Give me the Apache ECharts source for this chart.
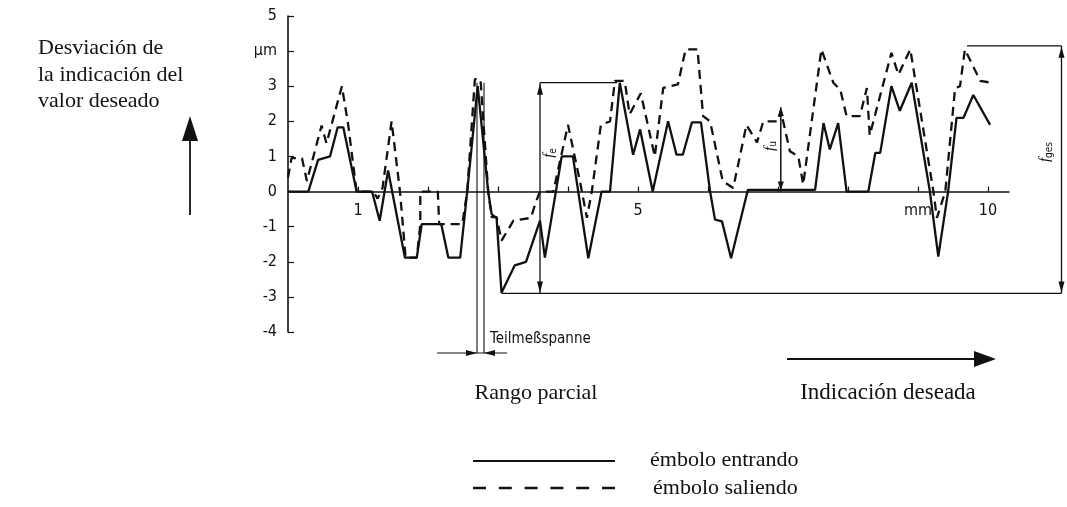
<!DOCTYPE html>
<html>
<head>
<meta charset="utf-8">
<script src="https://cdn.jsdelivr.net/npm/echarts@6/dist/echarts.min.js"></script>
<style>
  html, body { margin: 0; padding: 0; background: #ffffff; }
  #chart { width: 1067px; height: 507px; }
</style>
</head>
<body>
<div id="chart"></div>
<script>
// Deviation curves: [displacement in mm, deviation in µm]
const entrando = [
  [0, 0], [0.29, 0], [0.43, 0.9], [0.6, 1.0], [0.71, 1.83], [0.79, 1.83], [0.98, 0],
  [1.2, 0], [1.31, -0.83], [1.43, 0.6], [1.67, -1.88], [1.84, -1.88], [1.91, -0.93],
  [2.19, -0.93], [2.29, -1.88], [2.46, -1.88], [2.56, 0], [2.71, 3.0], [2.86, 0],
  [2.91, -0.65], [2.98, -0.75], [3.05, -2.88], [3.24, -2.1], [3.4, -2.0], [3.6, -0.83],
  [3.67, -1.88], [3.91, 1.0], [4.07, 1.0], [4.29, -1.9], [4.48, 0], [4.6, 0], [4.74, 3.1],
  [4.93, 1.05], [5.03, 1.77], [5.21, 0], [5.43, 2.0], [5.55, 1.05], [5.64, 1.05],
  [5.77, 1.97], [5.9, 1.97], [6.03, 0], [6.1, -0.8], [6.2, -0.85], [6.33, -1.9],
  [6.57, 0.05], [7.53, 0.05], [7.65, 1.95], [7.74, 1.2], [7.86, 1.95], [7.98, 0],
  [8.29, 0], [8.39, 1.1], [8.46, 1.1], [8.62, 3.0], [8.74, 2.3], [8.91, 3.1], [9.17, 0],
  [9.29, -1.85], [9.43, 0], [9.55, 2.1], [9.65, 2.1], [9.79, 2.75], [10.03, 1.9]
];
const saliendo = [
  [0, 0.4], [0.05, 0.95], [0.2, 0.95], [0.27, 0.3], [0.48, 1.88], [0.55, 1.37],
  [0.77, 3.0], [0.86, 1.9], [0.98, 0], [1.22, 0], [1.28, -0.2], [1.35, 0.1], [1.48, 2.0],
  [1.6, 0], [1.68, -1.88], [1.84, -1.88], [1.89, -0.93], [1.89, 0], [2.14, 0],
  [2.16, -0.93], [2.49, -0.93], [2.56, 0], [2.67, 3.2], [2.75, 3.2], [2.86, 0],
  [2.91, -0.73], [2.98, -0.73], [3.05, -1.4], [3.22, -0.83], [3.47, -0.75], [3.54, -0.3],
  [3.6, 0], [3.79, 0], [4.0, 1.9], [4.17, 0.3], [4.27, -0.75], [4.34, 0], [4.47, 1.9],
  [4.6, 2.0], [4.67, 3.15], [4.81, 3.15], [4.88, 2.2], [5.04, 2.8], [5.24, 1.0],
  [5.36, 2.95], [5.57, 3.05], [5.68, 4.05], [5.85, 4.05], [5.93, 2.15], [6.03, 2.0],
  [6.21, 0.3], [6.36, 0.1], [6.55, 1.9], [6.7, 1.4], [6.79, 2.0], [7.0, 2.0], [7.04, 2.3],
  [7.17, 1.15], [7.29, 1.0], [7.36, 0.2], [7.62, 4.05], [7.79, 3.1], [7.89, 2.9],
  [7.98, 2.15], [8.17, 2.15], [8.27, 2.95], [8.31, 1.6], [8.62, 3.95], [8.72, 3.33],
  [8.89, 4.05], [9.22, 0], [9.27, -0.75], [9.39, 0], [9.53, 2.95], [9.6, 3.0],
  [9.67, 4.05], [9.89, 3.15], [10.05, 3.1]
];

// Axis ticks and labels
const xTickValues = [1, 2, 3, 4, 5, 6, 7, 8, 9, 10];
const xLabelValues = [1, 5, 9, 10];
const xLabelText = { 1: '1', 5: '5', 9: 'mm', 10: '10' };
const yLabelText = { '5': '5', '4': 'µm', '3': '3', '2': '2', '1': '1', '0': '0',
                     '-1': '-1', '-2': '-2', '-3': '-3', '-4': '-4' };

const INK = '#111111';
const SERIF = '"Liberation Serif", "Times New Roman", serif';
const SANS = '"DejaVu Sans Condensed", "Liberation Sans Narrow", "Liberation Sans", sans-serif';

const chart = echarts.init(document.getElementById('chart'), null, { renderer: 'canvas' });

chart.setOption({
  animation: false,
  backgroundColor: '#ffffff',
  grid: { left: 288, top: 16, width: 721, height: 316, containLabel: false },
  xAxis: {
    type: 'value', min: 0, max: 10.3, interval: 1,
    axisLine: { onZero: true, lineStyle: { color: INK, width: 1.6 } },
    axisTick: { inside: true, length: 5, customValues: xTickValues, lineStyle: { color: INK, width: 1.2 } },
    axisLabel: { show: false },
    splitLine: { show: false }
  },
  yAxis: {
    type: 'value', min: -4, max: 5, interval: 1,
    axisLine: { show: true, onZero: false, lineStyle: { color: INK, width: 1.6 } },
    axisTick: { show: true, inside: true, length: 6, lineStyle: { color: INK, width: 1.2 } },
    axisLabel: {
      margin: 11, color: INK, fontFamily: SANS, fontSize: 16,
      formatter: v => yLabelText[String(v)] || ''
    },
    splitLine: { show: false }
  },
  series: [
    {
      name: 'émbolo saliendo', type: 'line', data: saliendo, symbol: 'none',
      lineStyle: { color: INK, width: 2.3, type: [9, 6] }, z: 2
    },
    {
      name: 'émbolo entrando', type: 'line', data: entrando, symbol: 'none',
      lineStyle: { color: INK, width: 2.3 }, z: 3
    }
  ]
});

// Dimension lines for the partial and total deviation spans
const feX = 3.6, feTop = 3.1, feTopEnd = 4.7;
const baseY = -2.9, baseStart = 3.05;
const fgesX = 11.05, fgesTop = 4.15, fgesTopStart = 9.7;
const fuX = 7.04, fuTop = 2.4;
const spanX = [2.7, 2.8], spanTop = 3.1, spanY = -4.6, spanOuter = [2.13, 3.13];

const P = (x, y) => chart.convertToPixel({ gridIndex: 0 }, [x, y]);

function seg(a, b, w) {
  return { type: 'line', shape: { x1: a[0], y1: a[1], x2: b[0], y2: b[1] },
           style: { stroke: INK, lineWidth: w || 1.2 }, silent: true };
}
function head(tip, dir, len, half) {
  // dir: 'up' | 'down' | 'left' | 'right'
  const [x, y] = tip;
  let pts;
  if (dir === 'up') pts = [[x, y], [x - half, y + len], [x + half, y + len]];
  else if (dir === 'down') pts = [[x, y], [x - half, y - len], [x + half, y - len]];
  else if (dir === 'right') pts = [[x, y], [x - len, y - half], [x - len, y + half]];
  else pts = [[x, y], [x + len, y - half], [x + len, y + half]];
  return { type: 'polygon', shape: { points: pts }, style: { fill: INK }, silent: true };
}
function fLabel(x, y, sub) {
  return {
    type: 'text', x: x, y: y, rotation: Math.PI / 2, silent: true,
    style: {
      text: '{f|f}{s|' + sub + '}', align: 'center', verticalAlign: 'middle',
      rich: {
        f: { fontFamily: SERIF, fontStyle: 'italic', fontSize: 15, fill: INK },
        s: { fontFamily: SANS, fontSize: 10, fill: INK, padding: [8, 0, 0, 0] }
      }
    }
  };
}

const els = [];
// x-axis tick labels sit just under the zero line
xLabelValues.forEach(v => {
  const p = P(v, 0);
  els.push({
    type: 'text', x: p[0], y: p[1] + 19, silent: true,
    style: { text: xLabelText[v], fontFamily: SANS, fontSize: 16, fill: INK,
             align: 'center', verticalAlign: 'middle' }
  });
});
// f_e: partial range
const feT = P(feX, feTop), feB = P(feX, baseY);
els.push(seg(feT, P(feTopEnd, feTop)));
els.push(seg(feT, feB, 1.3));
els.push(head([feT[0], feT[1] + 1], 'up', 11, 3));
els.push(head([feB[0], feB[1] - 1], 'down', 11, 3));
els.push(fLabel(feT[0] + 9, 153, 'e'));
// baseline at the lowest deviation
els.push(seg(P(baseStart, baseY), P(fgesX, baseY), 1.3));
// f_ges: total span
const fgT = P(fgesX, fgesTop), fgB = P(fgesX, baseY);
els.push(seg(P(fgesTopStart, fgesTop), fgT));
els.push(seg(fgT, fgB, 1.3));
els.push(head([fgT[0], fgT[1] + 1], 'up', 11, 3));
els.push(head([fgB[0], fgB[1] - 1], 'down', 11, 3));
els.push(fLabel(fgT[0] - 16, 152, 'ges'));
// f_u: reversal span
const fuT = P(fuX, fuTop), fuB = P(fuX, 0);
els.push(seg(fuT, fuB, 1.5));
els.push(head([fuT[0], fuT[1]], 'up', 9, 3));
els.push(head([fuB[0], fuB[1] - 1], 'down', 9, 3));
els.push(fLabel(fuT[0] - 11, 146, 'u'));
// Teilmeßspanne: two extension lines and inward arrows
const s1 = P(spanX[0], spanTop), s1b = P(spanX[0], spanY);
const s2 = P(spanX[1], spanTop), s2b = P(spanX[1], spanY);
els.push(seg(s1, s1b, 1.1));
els.push(seg(s2, s2b, 1.1));
els.push(seg(P(spanOuter[0], spanY), P(spanOuter[1], spanY), 1.1));
els.push(head([s1b[0], s1b[1]], 'right', 11, 3));
els.push(head([s2b[0], s2b[1]], 'left', 11, 3));
els.push({
  type: 'text', x: s2[0] + 6, y: s1b[1] - 14, silent: true,
  style: { text: 'Teilmeßspanne', fontFamily: SANS, fontSize: 15, fill: INK,
           align: 'left', verticalAlign: 'middle' }
});

// Axis captions and direction arrows
const leftLines = ['Desviación de', 'la indicación del', 'valor deseado'];
const leftY = [48, 75, 101];
leftLines.forEach((t, i) => els.push({
  type: 'text', x: 38, y: leftY[i], silent: true,
  style: { text: t, fontFamily: SERIF, fontSize: 22, fill: INK, align: 'left', verticalAlign: 'middle' }
}));
els.push(seg([190, 215], [190, 138], 1.8));
els.push(head([190, 116], 'up', 25, 8));

els.push({
  type: 'text', x: 536, y: 393, silent: true,
  style: { text: 'Rango parcial', fontFamily: SERIF, fontSize: 22, fill: INK, align: 'center', verticalAlign: 'middle' }
});
els.push({
  type: 'text', x: 888, y: 393, silent: true,
  style: { text: 'Indicación deseada', fontFamily: SERIF, fontSize: 23, fill: INK, align: 'center', verticalAlign: 'middle' }
});
els.push(seg([787, 359], [976, 359], 1.8));
els.push(head([996, 359], 'right', 22, 8));

// Legend
els.push(seg([473, 461], [615, 461], 2.2));
els.push({
  type: 'line', shape: { x1: 473, y1: 488, x2: 615, y2: 488 }, silent: true,
  style: { stroke: INK, lineWidth: 2.4, lineDash: [13, 12.8] }
});
els.push({
  type: 'text', x: 650, y: 460, silent: true,
  style: { text: 'émbolo entrando', fontFamily: SERIF, fontSize: 22, fill: INK, align: 'left', verticalAlign: 'middle' }
});
els.push({
  type: 'text', x: 653, y: 488, silent: true,
  style: { text: 'émbolo saliendo', fontFamily: SERIF, fontSize: 22, fill: INK, align: 'left', verticalAlign: 'middle' }
});

chart.setOption({ graphic: { elements: els } });
</script>
</body>
</html>
